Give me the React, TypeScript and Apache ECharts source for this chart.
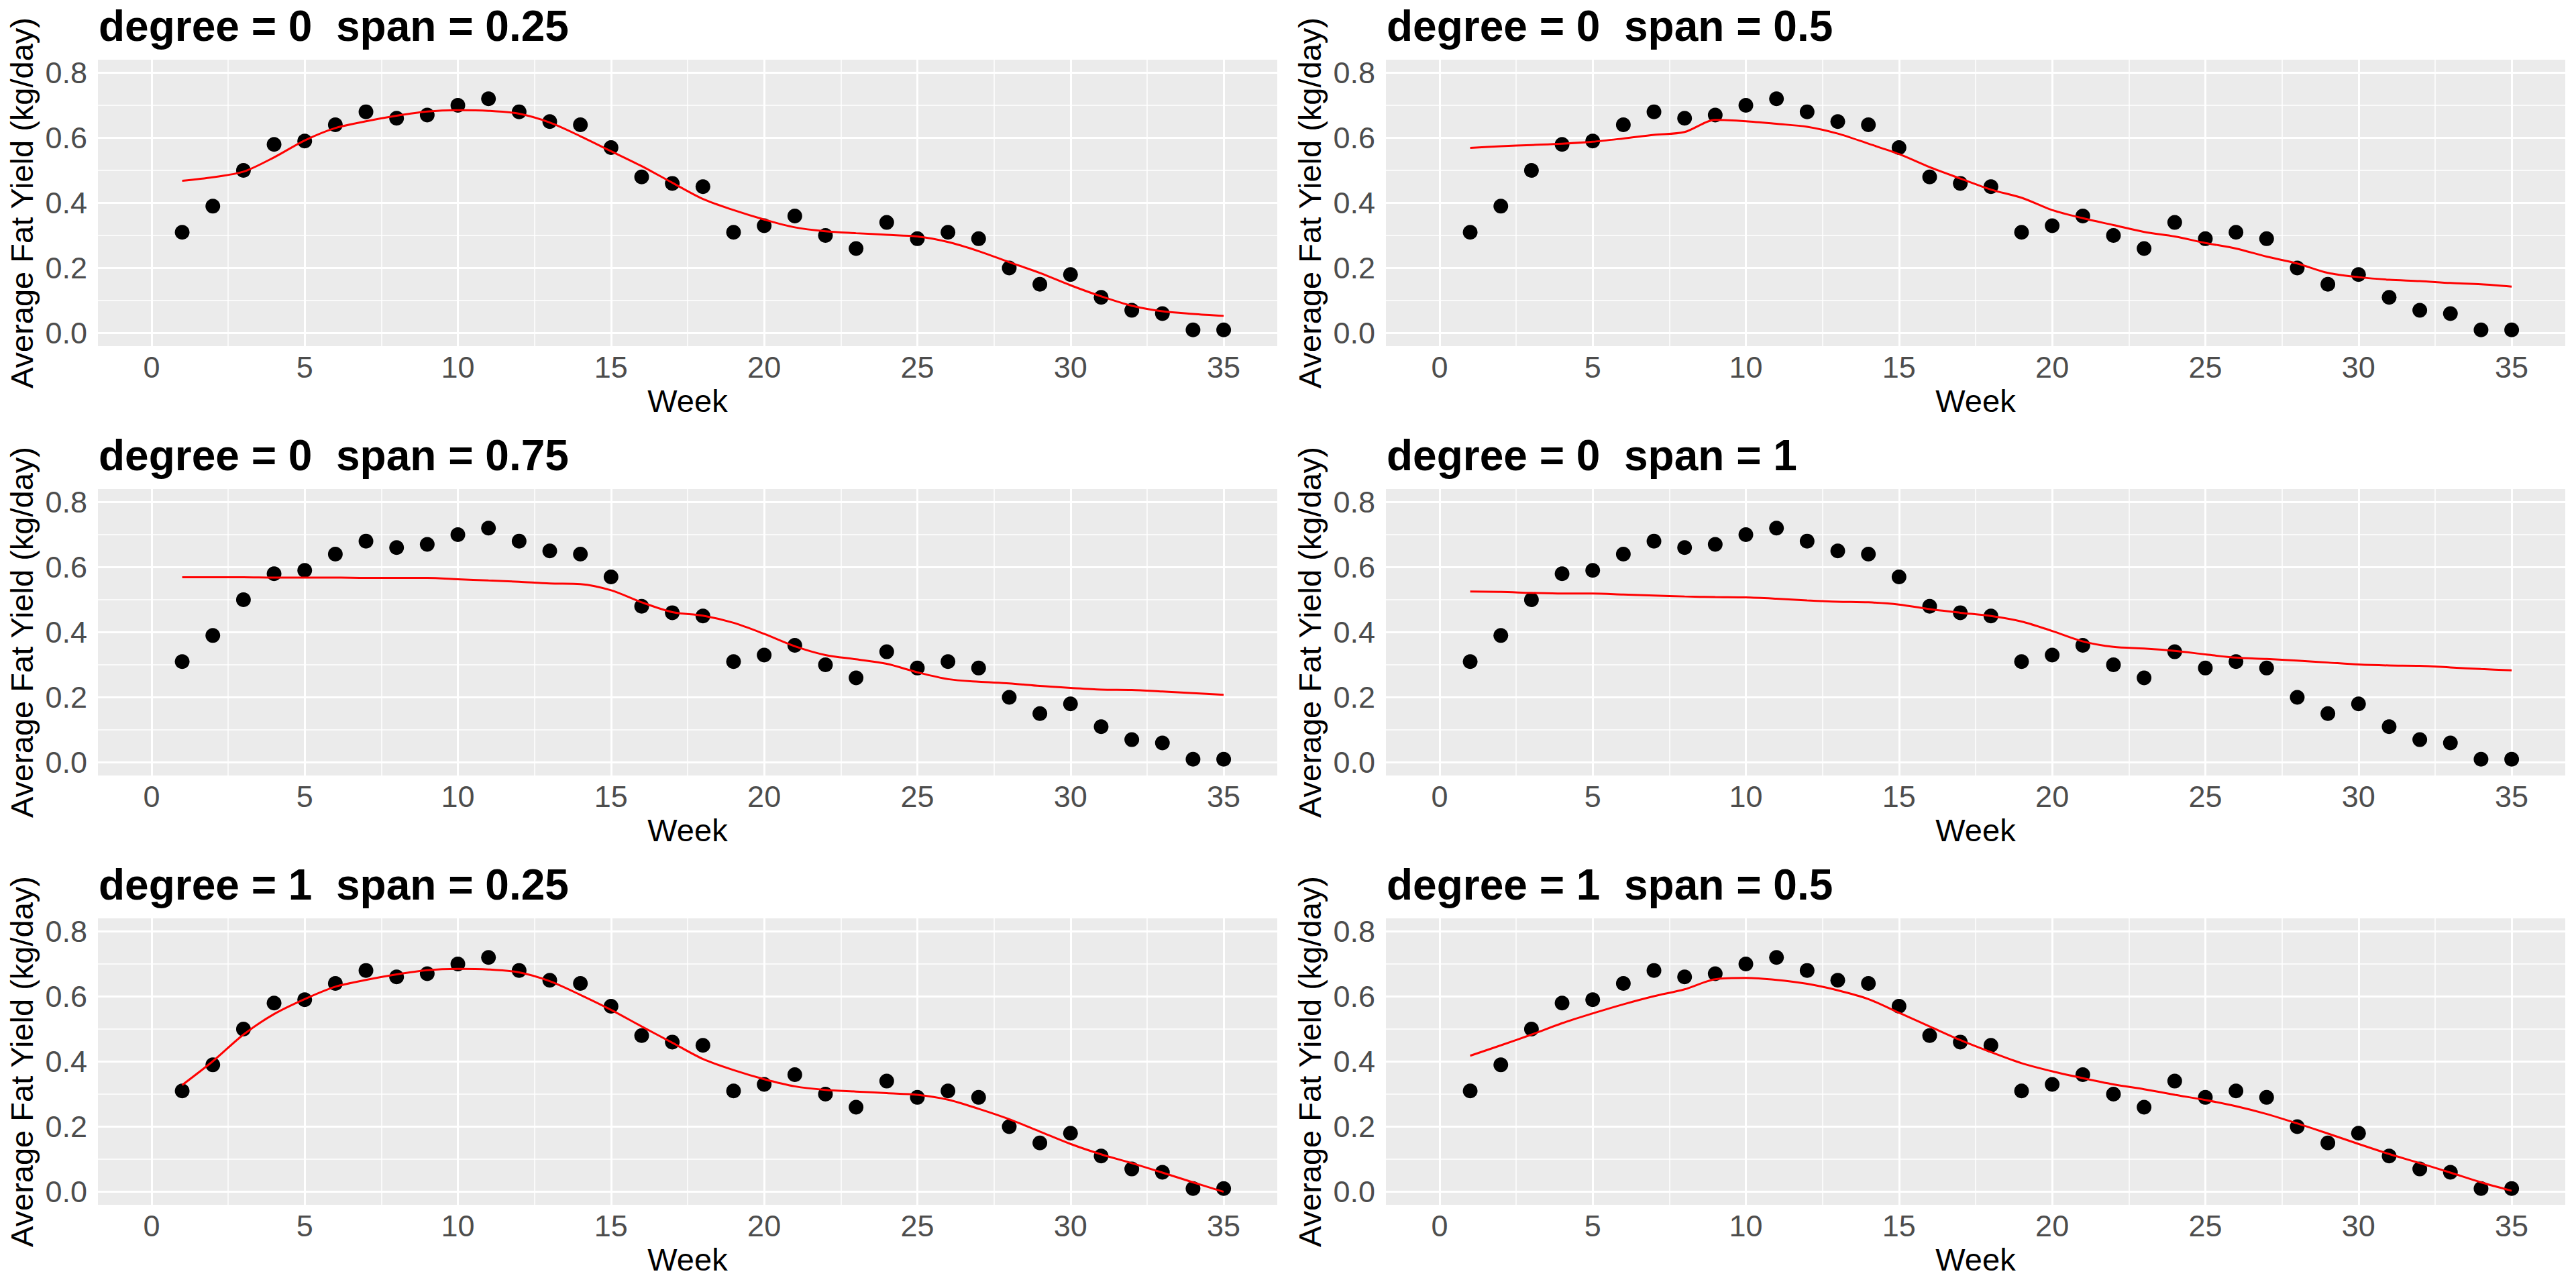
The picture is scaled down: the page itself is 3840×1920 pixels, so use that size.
import React, { useEffect, useRef } from "react";
import * as echarts from "echarts";

const weeks = [1, 2, 3, 4, 5, 6, 7, 8, 9, 10, 11, 12, 13, 14, 15, 16, 17, 18, 19, 20, 21, 22, 23, 24, 25, 26, 27, 28, 29, 30, 31, 32, 33, 34, 35];
const avgFatYield = [0.31, 0.39, 0.5, 0.58, 0.59, 0.64, 0.68, 0.66, 0.67, 0.7, 0.72, 0.68, 0.65, 0.64, 0.57, 0.48, 0.46, 0.45, 0.31, 0.33, 0.36, 0.3, 0.26, 0.34, 0.29, 0.31, 0.29, 0.2, 0.15, 0.18, 0.11, 0.07, 0.06, 0.01, 0.01];

const fitDeg0Span025 = [0.468, 0.479, 0.496, 0.54, 0.592, 0.63, 0.651, 0.668, 0.681, 0.685, 0.683, 0.674, 0.647, 0.605, 0.559, 0.513, 0.462, 0.412, 0.378, 0.349, 0.325, 0.313, 0.307, 0.302, 0.297, 0.28, 0.252, 0.218, 0.185, 0.147, 0.113, 0.084, 0.067, 0.059, 0.053];
const fitDeg0Span05 = [0.569, 0.574, 0.578, 0.582, 0.588, 0.598, 0.609, 0.618, 0.655, 0.651, 0.643, 0.634, 0.613, 0.582, 0.55, 0.51, 0.475, 0.441, 0.416, 0.378, 0.353, 0.332, 0.311, 0.297, 0.277, 0.26, 0.235, 0.214, 0.185, 0.172, 0.164, 0.16, 0.154, 0.15, 0.143];
const fitDeg0Span075 = [0.569, 0.569, 0.569, 0.568, 0.568, 0.568, 0.567, 0.567, 0.567, 0.563, 0.559, 0.555, 0.55, 0.548, 0.529, 0.492, 0.462, 0.451, 0.429, 0.395, 0.357, 0.33, 0.317, 0.303, 0.277, 0.256, 0.248, 0.243, 0.235, 0.229, 0.224, 0.223, 0.218, 0.213, 0.208];
const fitDeg0Span1 = [0.525, 0.524, 0.521, 0.519, 0.519, 0.516, 0.513, 0.51, 0.508, 0.507, 0.503, 0.498, 0.494, 0.492, 0.485, 0.471, 0.46, 0.45, 0.433, 0.404, 0.372, 0.355, 0.35, 0.343, 0.332, 0.322, 0.318, 0.313, 0.307, 0.301, 0.298, 0.297, 0.292, 0.287, 0.283];
const fitDeg1Span025 = [0.328, 0.401, 0.483, 0.546, 0.592, 0.63, 0.651, 0.668, 0.681, 0.685, 0.683, 0.674, 0.647, 0.605, 0.559, 0.508, 0.458, 0.408, 0.374, 0.346, 0.324, 0.313, 0.308, 0.303, 0.298, 0.283, 0.255, 0.223, 0.185, 0.147, 0.115, 0.088, 0.059, 0.029, 0.0];
const fitDeg1Span05 = [0.418, 0.45, 0.483, 0.518, 0.548, 0.576, 0.601, 0.622, 0.653, 0.657, 0.651, 0.639, 0.619, 0.592, 0.55, 0.508, 0.466, 0.429, 0.395, 0.37, 0.349, 0.33, 0.315, 0.298, 0.282, 0.263, 0.239, 0.21, 0.179, 0.147, 0.116, 0.088, 0.059, 0.029, 0.003];

const panelTitles = [
  "degree = 0  span = 0.25",
  "degree = 0  span = 0.5",
  "degree = 0  span = 0.75",
  "degree = 0  span = 1",
  "degree = 1  span = 0.25",
  "degree = 1  span = 0.5",
];

const xMajorTicks = [0, 5, 10, 15, 20, 25, 30, 35];
const xMinorTicks = [2.5, 7.5, 12.5, 17.5, 22.5, 27.5, 32.5];
const yMajorTicks = [0, 0.2, 0.4, 0.6, 0.8];
const yMinorTicks = [0.1, 0.3, 0.5, 0.7];

const xTitle = "Week";
const yTitle = "Average Fat Yield (kg/day)";

export default function App() {
  const ref = useRef<HTMLDivElement>(null);

  useEffect(() => {
    const chart = echarts.init(ref.current as HTMLDivElement, null, { renderer: "svg" });
    const FONT = "'Liberation Sans', Arial, Helvetica, sans-serif";
    const fits = [fitDeg0Span025, fitDeg0Span05, fitDeg0Span075, fitDeg0Span1, fitDeg1Span025, fitDeg1Span05];
    const points = weeks.map((w, k) => [w, avgFatYield[k]]);

    const grids: any[] = [];
    const xAxes: any[] = [];
    const yAxes: any[] = [];
    const series: any[] = [];
    const titles: any[] = [];

    const major = { color: "#FFFFFF", width: 3, type: "solid" };
    const minor = { color: "#FFFFFF", width: 1.5, type: "solid" };

    for (let i = 0; i < 6; i++) {
      const c = i % 2;
      const r = Math.floor(i / 2);
      const left = 146 + 1920 * c;
      const top = 89 + 640 * r;
      grids.push({
        left,
        top,
        width: 1758,
        height: 427,
        show: true,
        backgroundColor: "#EBEBEB",
        borderWidth: 0,
        containLabel: false,
        z: 0,
      });
      titles.push({
        text: panelTitles[i],
        left: left + 1,
        top: 7 + 640 * r,
        padding: 0,
        textStyle: { fontFamily: FONT, fontSize: 64, fontWeight: "bold", color: "#000000" },
      });
      xAxes.push({
        type: "value",
        gridIndex: i,
        min: -1.75,
        max: 36.75,
        name: xTitle,
        nameLocation: "middle",
        nameGap: 58,
        nameTextStyle: { fontFamily: FONT, fontSize: 47, color: "#000000" },
        axisLine: { show: false },
        axisTick: { show: true, customValues: xMajorTicks, length: 7, lineStyle: { color: "#333333", width: 3 } },
        axisLabel: {
          show: true,
          customValues: xMajorTicks,
          margin: 9,
          fontFamily: FONT,
          fontSize: 45,
          color: "#4D4D4D",
          formatter: (v: number) => String(v),
        },
        splitLine: { show: false },
      });
      yAxes.push({
        type: "value",
        gridIndex: i,
        min: -0.04,
        max: 0.84,
        name: yTitle,
        nameLocation: "middle",
        nameGap: 90,
        nameTextStyle: { fontFamily: FONT, fontSize: 47, color: "#000000" },
        axisLine: { show: false },
        axisTick: { show: true, customValues: yMajorTicks, length: 7, lineStyle: { color: "#333333", width: 3 } },
        axisLabel: {
          show: true,
          customValues: yMajorTicks,
          margin: 16,
          fontFamily: FONT,
          fontSize: 45,
          color: "#4D4D4D",
          formatter: (v: number) => v.toFixed(1),
        },
        splitLine: { show: false },
      });

      const gridLines = [
        ...yMinorTicks.map((v) => ({ yAxis: v, lineStyle: minor })),
        ...xMinorTicks.map((v) => ({ xAxis: v, lineStyle: minor })),
        ...yMajorTicks.map((v) => ({ yAxis: v, lineStyle: major })),
        ...xMajorTicks.map((v) => ({ xAxis: v, lineStyle: major })),
      ];

      series.push({
        type: "scatter",
        xAxisIndex: i,
        yAxisIndex: i,
        data: points,
        symbolSize: 0,
        silent: true,
        z: 1,
        markLine: {
          silent: true,
          z: 1,
          symbol: ["none", "none"],
          label: { show: false },
          emphasis: { disabled: true },
          data: gridLines,
        },
      });
      series.push({
        type: "scatter",
        xAxisIndex: i,
        yAxisIndex: i,
        data: points,
        symbol: "circle",
        symbolSize: 22,
        itemStyle: { color: "#000000", opacity: 1 },
        z: 3,
      });
      series.push({
        type: "line",
        xAxisIndex: i,
        yAxisIndex: i,
        data: weeks.map((w, k) => [w, fits[i][k]]),
        showSymbol: false,
        smooth: 0.3,
        lineStyle: { color: "#FF0000", width: 3 },
        z: 4,
      });
    }

    chart.setOption({
      animation: false,
      backgroundColor: "#FFFFFF",
      title: titles,
      grid: grids,
      xAxis: xAxes,
      yAxis: yAxes,
      series,
    });

    return () => {
      chart.dispose();
    };
  }, []);

  return (
    <div
      ref={ref}
      style={{ position: "fixed", left: 0, top: 0, width: 3840, height: 1920, background: "#FFFFFF" }}
    />
  );
}
